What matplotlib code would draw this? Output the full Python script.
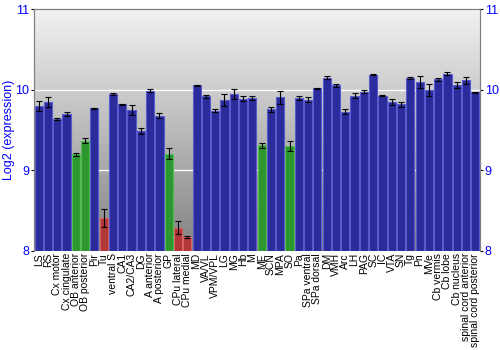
import numpy as np
import matplotlib
matplotlib.use('Agg')
import matplotlib.pyplot as plt
from matplotlib.colors import LinearSegmentedColormap

plt.rcParams['font.family'] = ['Liberation Sans', 'DejaVu Sans']

regions = ['LS', 'RS', 'Cx motor', 'Cx cingulate', 'OB anterior', 'OB posterior', 'Pir', 'Tu',
           'ventral S', 'CA1', 'CA2/CA3', 'DG', 'A anterior', 'A posterior', 'GP', 'CPu lateral',
           'CPu medial', 'MD', 'VA/VL', 'VPM/VPL', 'LG', 'MG', 'Hb', 'M', 'ME', 'SCN', 'MPA', 'SO',
           'Pa', 'SPa ventral', 'SPa dorsal', 'DM', 'VMH', 'Arc', 'LH', 'PAG', 'SC', 'IC', 'VTA',
           'SN', 'Tg', 'Pn', 'MVe', 'Cb vermis', 'Cb lobe', 'Cb nucleus', 'spinal cord anterior',
           'spinal cord posterior']

expression = [9.80, 9.85, 9.64, 9.70, 9.20, 9.37, 9.77, 8.41,
              9.95, 9.82, 9.75, 9.49, 9.99, 9.68, 9.21, 8.29,
              8.17, 10.06, 9.92, 9.74, 9.88, 9.95, 9.89, 9.90, 9.31, 9.76, 9.91, 9.30,
              9.90, 9.88, 10.02, 10.15, 10.06, 9.73, 9.93, 9.98, 10.19, 9.93, 9.85,
              9.82, 10.15, 10.10, 10.00, 10.13, 10.20, 10.06, 10.12,
              9.97]

errors = [0.06, 0.06, 0.01, 0.02, 0.02, 0.03, 0.01, 0.11,
          0.01, 0.01, 0.06, 0.04, 0.02, 0.03, 0.07, 0.08,
          0.01, 0.005, 0.02, 0.02, 0.075, 0.06, 0.03, 0.03, 0.03, 0.03, 0.08, 0.06,
          0.02, 0.03, 0.01, 0.02, 0.02, 0.03, 0.03, 0.02, 0.005, 0.01, 0.04,
          0.03, 0.01, 0.07, 0.07, 0.02, 0.02, 0.04, 0.04,
          0.01]

# b = blue, g = green, r = red
groups = ['b', 'b', 'b', 'b', 'g', 'g', 'b', 'r',
          'b', 'b', 'b', 'b', 'b', 'b', 'g', 'r',
          'r', 'b', 'b', 'b', 'b', 'b', 'b', 'b', 'g', 'b', 'b', 'g',
          'b', 'b', 'b', 'b', 'b', 'b', 'b', 'b', 'b', 'b', 'b',
          'b', 'b', 'b', 'b', 'b', 'b', 'b', 'b',
          'b']

face = {'b': '#2b2b9c', 'g': '#2e962e', 'r': '#b23838'}
edge = {'b': '#5a5ad0', 'g': '#55bb55', 'r': '#d86060'}

fig = plt.figure(figsize=(5, 3.5), dpi=100)
ax = fig.add_axes([0.068, 0.283, 0.892, 0.69])

x = np.arange(len(regions))
ax.set_xlim(-0.5, len(regions) - 0.5)
ax.set_ylim(8, 11)

# gray gradient background
cmap = LinearSegmentedColormap.from_list('bg', ['#828282', '#f2f2f2'])
grad = np.linspace(0, 1, 256).reshape(-1, 1)
ax.imshow(grad, extent=[-0.5, len(regions) - 0.5, 8, 11], origin='lower',
          aspect='auto', cmap=cmap, zorder=0)

for yv in [9, 10]:
    ax.axhline(yv, color='white', lw=1, zorder=1)

bottom = 8
heights = [v - bottom for v in expression]
ax.bar(x, heights, bottom=bottom, width=0.88,
       color=[face[g] for g in groups], edgecolor=[edge[g] for g in groups],
       linewidth=0.8, zorder=2)
ax.errorbar(x, expression, yerr=errors, fmt='none', ecolor='black',
            elinewidth=0.8, capsize=2, capthick=0.8, zorder=3)

ax.set_xticks(x)
ax.set_xticklabels(regions, rotation=90, fontsize=7.5)
ax.tick_params(axis='x', length=0, pad=1.5)

ax.set_yticks([8, 9, 10, 11])
ax.tick_params(axis='y', colors='black', labelcolor='blue', labelsize=9,
               direction='out', length=2.5, width=0.8, pad=1)
ax.set_ylabel('Log2 (expression)', color='blue', fontsize=9, labelpad=0)

ax2 = ax.twinx()
ax2.set_ylim(8, 11)
ax2.set_yticks([8, 9, 10, 11])
ax2.tick_params(axis='y', colors='black', labelcolor='blue', labelsize=9,
                direction='out', length=2.5, width=0.8, pad=1)

for a in (ax, ax2):
    for s in a.spines.values():
        s.set_color('#808080')
        s.set_linewidth(0.8)
    a.spines['bottom'].set_visible(False)

fig.savefig('out.png', dpi=100)
